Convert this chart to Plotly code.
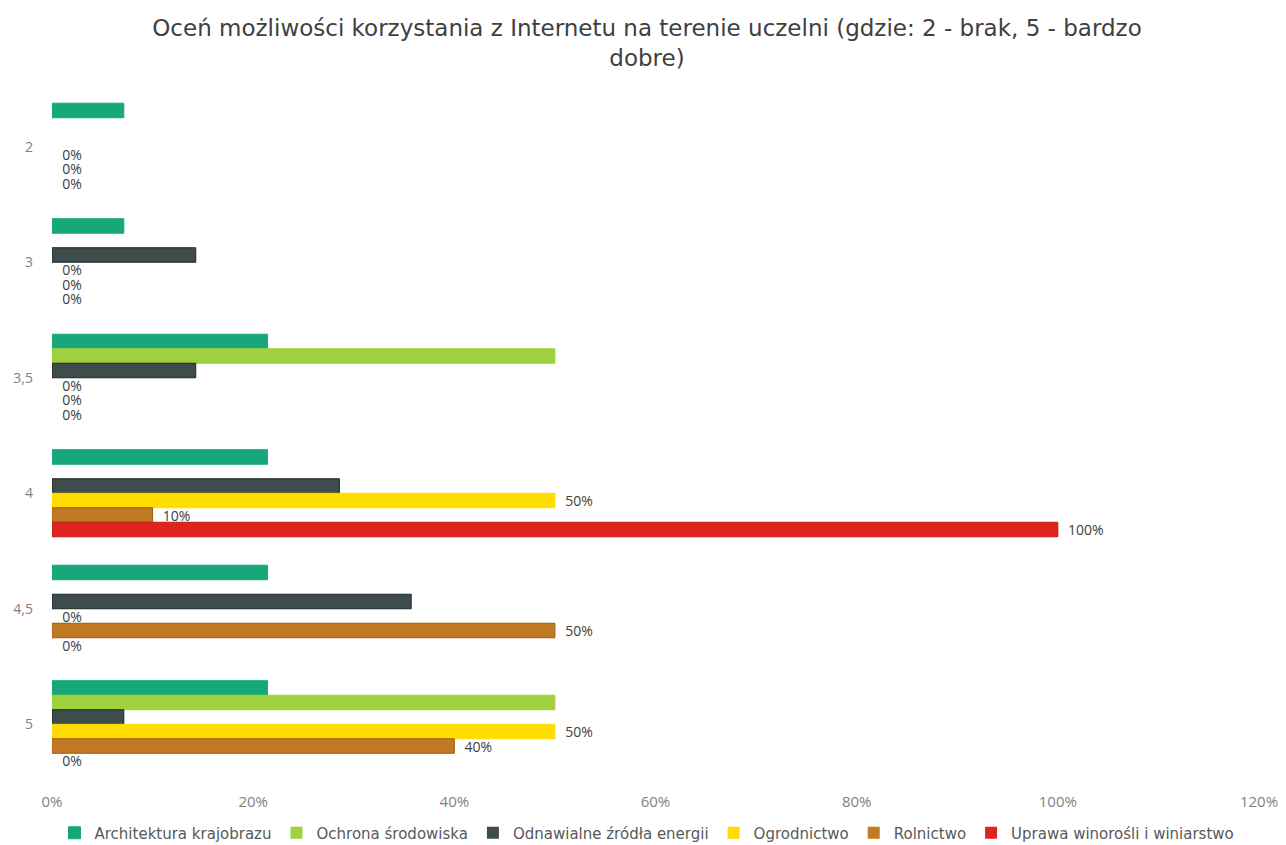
import plotly.graph_objects as go

categories = ["2", "3", "3,5", "4", "4,5", "5"]
series_names = [
    "Architektura krajobrazu",
    "Ochrona środowiska",
    "Odnawialne źródła energii",
    "Ogrodnictwo",
    "Rolnictwo",
    "Uprawa winorośli i winiarstwo",
]
architektura = [0.0714, 0.0714, 0.2143, 0.2143, 0.2143, 0.2143]
ochrona = [0.0, 0.0, 0.50, 0.0, 0.0, 0.50]
odnawialne = [0.0, 0.1429, 0.1429, 0.2857, 0.3571, 0.0714]
ogrodnictwo = [0.0, 0.0, 0.0, 0.50, 0.0, 0.50]
rolnictwo = [0.0, 0.0, 0.0, 0.10, 0.50, 0.40]
uprawa = [0.0, 0.0, 0.0, 1.00, 0.0, 0.0]

values = [architektura, ochrona, odnawialne, ogrodnictwo, rolnictwo, uprawa]
colors = ["#16a87a", "#9fd03f", "#3e4c4c", "#ffdd00", "#c27a22", "#e0231e"]
outlines = ["#16a87a", "#9fd03f", "#1e2626", "#ffdd00", "#9a5c14", "#c01a16"]
show_labels = [False, False, False, True, True, True]

fig = go.Figure()
for name, vals, col, ol, lab in zip(series_names, values, colors, outlines, show_labels):
    kw = {}
    if lab:
        kw = dict(
            texttemplate="\u00a0\u00a0%{x:.0%}",
            textposition="outside",
            constraintext="none",
            textfont=dict(size=14, color="#404040", family="Open Sans"),
            cliponaxis=False,
        )
    fig.add_trace(
        go.Bar(
            y=categories,
            x=vals,
            name=name,
            orientation="h",
            marker=dict(
                color=col,
                line=dict(color=ol, width=[1 if v > 0 else 0 for v in vals]),
            ),
            **kw,
        )
    )

# the page body adds an 8px margin, so the figure is sized to fit the window
fig.update_layout(
    width=1278,
    height=837,
    barmode="group",
    bargap=0.246,
    bargroupgap=0,
    plot_bgcolor="white",
    paper_bgcolor="white",
    font=dict(family="Open Sans", color="#595959"),
    title=dict(
        text="Oceń możliwości korzystania z Internetu na terenie uczelni (gdzie: 2 - brak, 5 - bardzo<br>dobre)",
        x=0.5,
        xanchor="center",
        y=0.966,
        yanchor="top",
        yref="container",
        font=dict(size=23, color="#404040", family="DejaVu Sans"),
    ),
    margin=dict(l=44, r=27, t=81, b=63),
    xaxis=dict(
        range=[0, 1.2],
        dtick=0.2,
        tickformat=".0%",
        showgrid=False,
        zeroline=False,
        showline=False,
        tickfont=dict(size=15, color="#7f7f7f"),
        ticklabelstandoff=9,
        automargin=False,
    ),
    yaxis=dict(
        autorange="reversed",
        showgrid=False,
        zeroline=False,
        showline=False,
        tickfont=dict(size=14, color="#7f7f7f"),
        ticklabelstandoff=18,
        automargin=False,
    ),
    legend=dict(
        orientation="h",
        x=0.5,
        xanchor="center",
        xref="container",
        y=0.0143,
        yanchor="middle",
        yref="container",
        font=dict(size=15, color="#595959", family="DejaVu Sans"),
        itemwidth=30,
        traceorder="normal",
    ),
)

fig.write_html("out.html")
